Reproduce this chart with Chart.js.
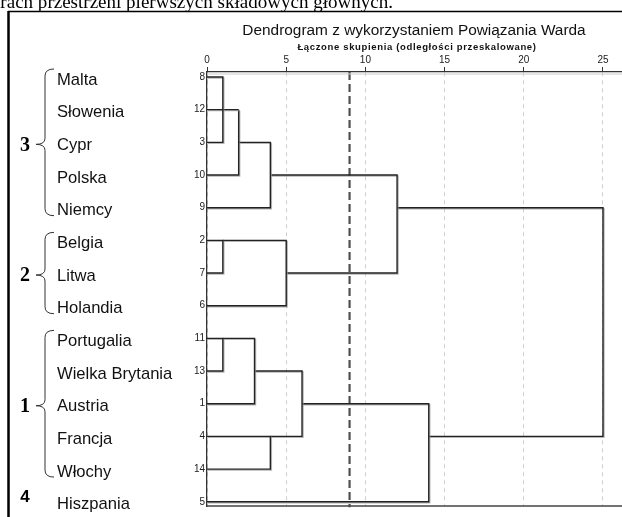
<!DOCTYPE html>
<html>
<head>
<meta charset="utf-8">
<script src="https://cdn.jsdelivr.net/npm/chart.js@4.4.1/dist/chart.umd.min.js"></script>
<style>
  html, body { margin: 0; padding: 0; background: #fff; }
  canvas { display: block; }
</style>
</head>
<body>
<canvas id="dendro" width="622" height="517"></canvas>
<script>
// Kolejność liści od góry i numery przypadków
const caseIds = [8, 12, 3, 10, 9, 2, 7, 6, 11, 13, 1, 4, 14, 5];
const countries = ['Malta', 'Słowenia', 'Cypr', 'Polska', 'Niemcy', 'Belgia', 'Litwa', 'Holandia',
  'Portugalia', 'Wielka Brytania', 'Austria', 'Francja', 'Włochy', 'Hiszpania'];

// Schemat aglomeracji: ujemne = numer przypadku, dodatnie = numer wcześniejszego kroku
const mergeA = [-8, -2, -11, -12, 4, -1, -4, 5, 2, 6, 8, 10, 11];
const mergeB = [-3, -7, -13, 1, -10, 3, -14, -9, -6, 7, 9, -5, 12];
const mergeDist = [1, 1, 1, 2, 2, 3, 4, 4, 5, 6, 12, 14, 25];

const tickValues = [0, 5, 10, 15, 20, 25];
const cutDistance = 9;

// Grupy (skupienia) zaznaczone po lewej
const groupNames = ['3', '2', '1', '4'];
const groupFirst = [1, 6, 9, 14];
const groupLast = [5, 8, 13, 14];

const titleText = 'Dendrogram z wykorzystaniem Powiązania Warda';
const subtitleText = 'Łączone skupienia (odległości przeskalowane)';
const pageText = 'wymiarach przestrzeni pierwszych składowych głównych.';
const pageTextVisible = 'rach przestrzeni pierwszych składowych głównych.';

const X_MAX = 26.2, Y_MIN = 0.847, Y_MAX = 14.13;
const SANS = '"Liberation Sans", Arial, sans-serif';
const SERIF = '"Liberation Serif", "Times New Roman", serif';

// budowanie linii dendrogramu
const nodeRow = [], nodeDist = [];
function childInfo(ref) {
  if (ref < 0) return { row: caseIds.indexOf(-ref) + 1, dist: 0 };
  return { row: nodeRow[ref - 1], dist: nodeDist[ref - 1] };
}
const datasets = mergeDist.map((d, i) => {
  const a = childInfo(mergeA[i]);
  const b = childInfo(mergeB[i]);
  nodeRow[i] = Math.floor((a.row + b.row) / 2);
  nodeDist[i] = d;
  return {
    data: [{ x: a.dist, y: a.row }, { x: d, y: a.row }, { x: d, y: b.row }, { x: b.dist, y: b.row }],
    showLine: true,
    borderColor: '#222',
    borderWidth: 1.4,
    pointRadius: 0,
    tension: 0,
    clip: false,
    shadow: true
  };
});

// linia odcięcia
datasets.push({
  data: [{ x: cutDistance, y: Y_MIN }, { x: cutDistance, y: Y_MAX + 0.04 }],
  showLine: true,
  borderColor: '#505050',
  borderWidth: 2.2,
  borderDash: [8, 4],
  pointRadius: 0,
  clip: false
});

function brace(ctx, x, yTop, yBot, yTip) {
  const bx = x + 9, ex = x + 18;
  ctx.beginPath();
  ctx.moveTo(ex, yTop);
  ctx.quadraticCurveTo(bx, yTop, bx, yTop + 7);
  ctx.lineTo(bx, yTip - 6);
  ctx.quadraticCurveTo(bx, yTip, x, yTip);
  ctx.quadraticCurveTo(bx, yTip, bx, yTip + 6);
  ctx.lineTo(bx, yBot - 7);
  ctx.quadraticCurveTo(bx, yBot, ex, yBot);
  ctx.stroke();
}

const decor = {
  id: 'decor',
  beforeDraw(chart) {
    const ctx = chart.ctx;
    ctx.save();
    ctx.fillStyle = '#fff';
    ctx.fillRect(0, 0, chart.width, chart.height);
    ctx.restore();
  },
  beforeDatasetDraw(chart, args) {
    const ctx = chart.ctx;
    ctx.save();
    if (args.meta._dataset.shadow) {
      ctx.shadowColor = 'rgba(150,150,150,0.7)';
      ctx.shadowOffsetX = 1;
      ctx.shadowOffsetY = 1;
      ctx.shadowBlur = 0;
    }
  },
  afterDatasetDraw(chart) {
    chart.ctx.restore();
  },
  afterDraw(chart) {
    const ctx = chart.ctx;
    const area = chart.chartArea;
    const ys = chart.scales.y;
    ctx.save();

    // linia dolna
    ctx.strokeStyle = '#444';
    ctx.lineWidth = 1.5;
    ctx.beginPath();
    ctx.moveTo(area.left, area.bottom);
    ctx.lineTo(area.right, area.bottom);
    ctx.stroke();
    ctx.strokeStyle = '#ccc';
    ctx.lineWidth = 1;
    ctx.beginPath();
    ctx.moveTo(area.left, area.top + 2);
    ctx.lineTo(area.right, area.top + 2);
    ctx.stroke();

    // tekst strony nad ramką (ucięty u góry)
    ctx.fillStyle = '#000';
    ctx.font = '20px ' + SERIF;
    const fit = 20 * 393 / ctx.measureText(pageTextVisible).width;
    ctx.font = fit.toFixed(2) + 'px ' + SERIF;
    ctx.textAlign = 'right';
    ctx.textBaseline = 'alphabetic';
    ctx.fillText(pageText, 393, 8);

    // ramka strony
    ctx.strokeStyle = '#000';
    ctx.lineWidth = 1.5;
    ctx.beginPath();
    ctx.moveTo(8, 11.5);
    ctx.lineTo(chart.width, 11.5);
    ctx.stroke();
    ctx.lineWidth = 2.5;
    ctx.beginPath();
    ctx.moveTo(8.5, 11);
    ctx.lineTo(8.5, chart.height);
    ctx.stroke();

    // tytuły
    ctx.textAlign = 'center';
    ctx.textBaseline = 'middle';
    ctx.fillStyle = '#111';
    ctx.font = '15.4px ' + SANS;
    ctx.fillText(titleText, 414, 31);
    ctx.font = 'bold 9.5px ' + SANS;
    ctx.letterSpacing = '0.65px';
    ctx.fillText(subtitleText, 417, 47);
    ctx.letterSpacing = '0px';

    // etykiety liści
    caseIds.forEach((id, i) => {
      const y = ys.getPixelForValue(i + 1);
      ctx.textAlign = 'right';
      ctx.font = '10px ' + SANS;
      ctx.fillStyle = '#222';
      ctx.fillText(String(id), area.left - 2, y);
      ctx.textAlign = 'left';
      ctx.font = '16.6px ' + SANS;
      ctx.fillStyle = '#111';
      ctx.fillText(countries[i], 57, y + 3);
    });

    // grupy z klamrami
    ctx.strokeStyle = '#333';
    ctx.lineWidth = 1;
    groupNames.forEach((name, g) => {
      const yTop = ys.getPixelForValue(groupFirst[g]);
      const yBot = ys.getPixelForValue(groupLast[g]);
      const yMid = (yTop + yBot) / 2;
      ctx.fillStyle = '#000';
      ctx.textAlign = 'center';
      if (groupLast[g] > groupFirst[g]) {
        brace(ctx, 36, yTop - 8, yBot + 8, yMid + 2);
        ctx.font = 'bold 20px ' + SERIF;
        ctx.fillText(name, 25, yMid + 3);
      } else {
        ctx.font = 'bold 17px ' + SANS;
        ctx.fillText(name, 25, yMid - 4);
      }
    });
    ctx.restore();
  }
};

new Chart(document.getElementById('dendro'), {
  type: 'scatter',
  data: { datasets },
  options: {
    responsive: false,
    animation: false,
    events: [],
    layout: { padding: { left: 207, top: 0, right: 0, bottom: 11 } },
    plugins: { legend: { display: false }, tooltip: { enabled: false } },
    scales: {
      x: {
        type: 'linear',
        position: 'top',
        min: 0,
        max: X_MAX,
        afterBuildTicks: (scale) => {
          scale.ticks = tickValues.map(v => ({ value: v }));
        },
        afterFit: (scale) => { scale.height = 72; },
        ticks: {
          font: { size: 10, family: SANS },
          color: '#222',
          padding: 1,
          maxRotation: 0
        },
        grid: {
          color: '#cfcfcf',
          lineWidth: 1,
          tickLength: 5,
          tickColor: '#333',
          tickWidth: 1
        },
        border: { color: '#333', width: 1.3, dash: [4, 4] }
      },
      y: {
        type: 'linear',
        reverse: true,
        min: Y_MIN,
        max: Y_MAX,
        afterFit: (scale) => { scale.width = 0; },
        ticks: { display: false },
        grid: { display: false },
        border: { color: '#333', width: 1.3 }
      }
    }
  },
  plugins: [decor]
});
</script>
</body>
</html>
